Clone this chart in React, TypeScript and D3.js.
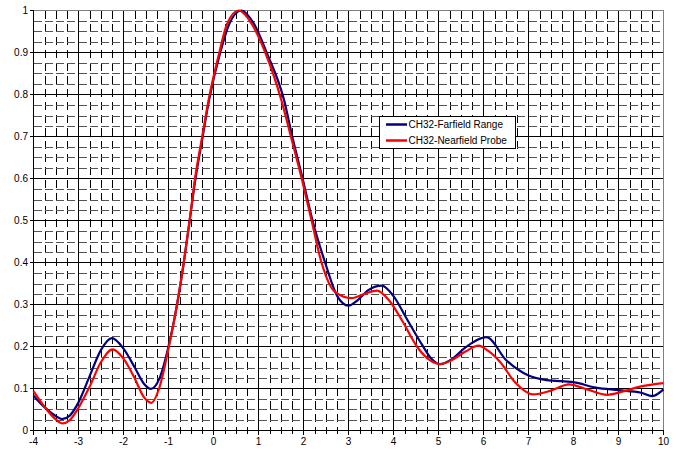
import * as d3 from "d3";
import { useEffect, useRef } from "react";

// axis ticks
const xTicks = [-4, -3, -2, -1, 0, 1, 2, 3, 4, 5, 6, 7, 8, 9, 10];
const yTicks = [0, 0.1, 0.2, 0.3, 0.4, 0.5, 0.6, 0.7, 0.8, 0.9, 1];
const yTickLabels = ["0", "0.1", "0.2", "0.3", "0.4", "0.5", "0.6", "0.7", "0.8", "0.9", "1"];

const seriesNames = ["CH32-Farfield Range", "CH32-Nearfield Probe"];
const seriesColors = ["#000080", "#ff0000"];

// CH32-Farfield Range
const farX = [
  -4, -3.75, -3.5, -3.37, -3.2, -3, -2.75, -2.5, -2.26, -2, -1.75, -1.55, -1.39, -1.2, -1,
  -0.81, -0.66, -0.53, -0.4, -0.24, -0.1, 0.15, 0.35, 0.62, 0.9, 1.18, 1.57, 1.75, 1.98, 2.2,
  2.48, 2.75, 3.0, 3.2, 3.45, 3.74, 4.0, 4.3, 4.63, 4.85, 5.02, 5.3, 5.6, 6.07, 6.5, 7.0,
  7.4, 8.0, 8.5, 9.0, 9.5, 9.75, 10,
];
const farY = [
  0.083, 0.055, 0.034, 0.027, 0.035, 0.067, 0.13, 0.192, 0.22, 0.195, 0.15, 0.112, 0.099, 0.124, 0.2,
  0.3, 0.4, 0.5, 0.6, 0.7, 0.786, 0.9, 0.968, 1.0, 0.968, 0.9, 0.786, 0.7, 0.6, 0.5,
  0.4, 0.32, 0.297, 0.31, 0.335, 0.345, 0.32, 0.265, 0.205, 0.17, 0.158, 0.17, 0.198, 0.222, 0.168, 0.131,
  0.12, 0.115, 0.102, 0.096, 0.09, 0.082, 0.098,
];

// CH32-Nearfield Probe
const nearX = [
  -4, -3.75, -3.5, -3.35, -3.2, -3, -2.75, -2.5, -2.24, -2, -1.75, -1.55, -1.38, -1.2, -1,
  -0.81, -0.66, -0.53, -0.41, -0.25, -0.11, 0.13, 0.3, 0.56, 0.85, 1.15, 1.51, 1.72, 1.96, 2.18,
  2.4, 2.7, 3.07, 3.35, 3.63, 3.9, 4.2, 4.52, 4.8, 5.04, 5.3, 5.6, 5.89, 6.1, 6.37, 6.7,
  7.1, 7.5, 7.9, 8.3, 8.75, 9.1, 9.5, 10,
];
const nearY = [
  0.094, 0.056, 0.026, 0.017, 0.024, 0.054, 0.105, 0.163, 0.193, 0.171, 0.124, 0.08, 0.066, 0.103, 0.195,
  0.3, 0.4, 0.5, 0.6, 0.7, 0.786, 0.9, 0.968, 1.0, 0.968, 0.9, 0.786, 0.7, 0.6, 0.5,
  0.4, 0.33, 0.315, 0.325, 0.333, 0.31, 0.26, 0.2, 0.168, 0.158, 0.168, 0.188, 0.202, 0.19, 0.163, 0.115,
  0.086, 0.095, 0.11, 0.098, 0.085, 0.093, 0.105, 0.113,
];

export default function App() {
  const ref = useRef<HTMLDivElement>(null);

  useEffect(() => {
    const width = 678;
    const height = 451;
    const font = "'Liberation Sans', Arial, sans-serif";

    d3.select(ref.current).select("svg").remove();

    const svg = d3
      .select(ref.current)
      .append("svg")
      .attr("width", width)
      .attr("height", height)
      .style("position", "absolute")
      .style("left", "0px")
      .style("top", "0px")
      .style("background", "#fff");

    const x = d3.scaleLinear().domain([-4, 10]).range([33.5, 663.5]);
    const y = d3.scaleLinear().domain([0, 1]).range([430.5, 10.5]);

    const minorX = d3.range(-4, 10.001, 0.25).filter((v) => Math.abs(v - Math.round(v)) > 1e-6);
    const minorY = d3.range(0, 1.0001, 0.025).filter((v) => Math.abs(v * 10 - Math.round(v * 10)) > 1e-6);

    const grid = svg.append("g").attr("shape-rendering", "crispEdges");

    // minor dashed grid
    grid
      .selectAll("line.mx")
      .data(minorX)
      .enter()
      .append("line")
      .attr("x1", (d) => Math.round(x(d)) + 0.5)
      .attr("x2", (d) => Math.round(x(d)) + 0.5)
      .attr("y1", y(1))
      .attr("y2", y(0))
      .attr("stroke", "#000")
      .attr("stroke-dasharray", "8,5");

    grid
      .selectAll("line.my")
      .data(minorY)
      .enter()
      .append("line")
      .attr("x1", x(-4))
      .attr("x2", x(10))
      .attr("y1", (d) => Math.round(y(d)) + 0.5)
      .attr("y2", (d) => Math.round(y(d)) + 0.5)
      .attr("stroke", "#555")
      .attr("stroke-dasharray", "8,3.25");

    // major grid
    grid
      .selectAll("line.gx")
      .data(xTicks.slice(1, -1))
      .enter()
      .append("line")
      .attr("x1", (d) => x(d))
      .attr("x2", (d) => x(d))
      .attr("y1", y(1))
      .attr("y2", y(0))
      .attr("stroke", "#000");

    grid
      .selectAll("line.gy")
      .data(yTicks.slice(1, -1))
      .enter()
      .append("line")
      .attr("x1", x(-4))
      .attr("x2", x(10))
      .attr("y1", (d) => y(d))
      .attr("y2", (d) => y(d))
      .attr("stroke", "#000");

    // plot border (top/right gray)
    grid
      .append("path")
      .attr("d", `M${x(-4)},${y(1)}H${x(10)}V${y(0)}`)
      .attr("fill", "none")
      .attr("stroke", "#808080");

    // axes
    const axes = svg.append("g").attr("shape-rendering", "crispEdges");
    axes
      .append("line")
      .attr("x1", x(-4))
      .attr("x2", x(10))
      .attr("y1", y(0))
      .attr("y2", y(0))
      .attr("stroke", "#000");
    axes
      .append("line")
      .attr("x1", x(-4))
      .attr("x2", x(-4))
      .attr("y1", y(1))
      .attr("y2", y(0))
      .attr("stroke", "#000");

    axes
      .selectAll("line.tx")
      .data(xTicks)
      .enter()
      .append("line")
      .attr("x1", (d) => x(d))
      .attr("x2", (d) => x(d))
      .attr("y1", y(0))
      .attr("y2", y(0) + 4)
      .attr("stroke", "#000");
    axes
      .selectAll("line.mtx")
      .data(minorX)
      .enter()
      .append("line")
      .attr("x1", (d) => Math.round(x(d)) + 0.5)
      .attr("x2", (d) => Math.round(x(d)) + 0.5)
      .attr("y1", y(0) - 3)
      .attr("y2", y(0) + 3)
      .attr("stroke", "#000");
    axes
      .selectAll("line.ty")
      .data(yTicks)
      .enter()
      .append("line")
      .attr("x1", x(-4) - 4)
      .attr("x2", x(-4))
      .attr("y1", (d) => y(d))
      .attr("y2", (d) => y(d))
      .attr("stroke", "#000");

    // tick labels
    svg
      .append("g")
      .selectAll("text")
      .data(xTicks)
      .enter()
      .append("text")
      .attr("x", (d) => x(d))
      .attr("y", 445)
      .attr("text-anchor", "middle")
      .attr("font-family", font)
      .attr("font-size", 10)
      .text((d) => String(d));

    svg
      .append("g")
      .selectAll("text")
      .data(yTicks)
      .enter()
      .append("text")
      .attr("x", 28)
      .attr("y", (d) => y(d))
      .attr("dy", "0.35em")
      .attr("text-anchor", "end")
      .attr("font-family", font)
      .attr("font-size", 10)
      .text((d, i) => yTickLabels[i]);

    // series
    const line = d3
      .line<[number, number]>()
      .x((d) => x(d[0]))
      .y((d) => y(d[1]))
      .curve(d3.curveMonotoneX);

    const series: [number, number][][] = [
      farX.map((v, i) => [v, farY[i]]),
      nearX.map((v, i) => [v, nearY[i]]),
    ];

    svg
      .append("g")
      .selectAll("path")
      .data(series)
      .enter()
      .append("path")
      .attr("d", (d) => line(d))
      .attr("fill", "none")
      .attr("stroke", (d, i) => seriesColors[i])
      .attr("stroke-width", 2.2)
      .attr("stroke-linejoin", "round");

    // legend
    const legend = svg.append("g").attr("transform", "translate(379.5,116.5)");
    legend
      .append("rect")
      .attr("width", 136)
      .attr("height", 32)
      .attr("fill", "#fff")
      .attr("stroke", "#000")
      .attr("shape-rendering", "crispEdges");
    seriesNames.forEach((name, i) => {
      legend
        .append("line")
        .attr("x1", 6.5)
        .attr("x2", 27.5)
        .attr("y1", 8 + i * 16)
        .attr("y2", 8 + i * 16)
        .attr("stroke", seriesColors[i])
        .attr("stroke-width", 2.5);
      legend
        .append("text")
        .attr("x", 29)
        .attr("y", 8 + i * 16)
        .attr("dy", "0.35em")
        .attr("font-family", font)
        .attr("font-size", 10)
        .text(name);
    });
  }, []);

  return <div ref={ref}></div>;
}
